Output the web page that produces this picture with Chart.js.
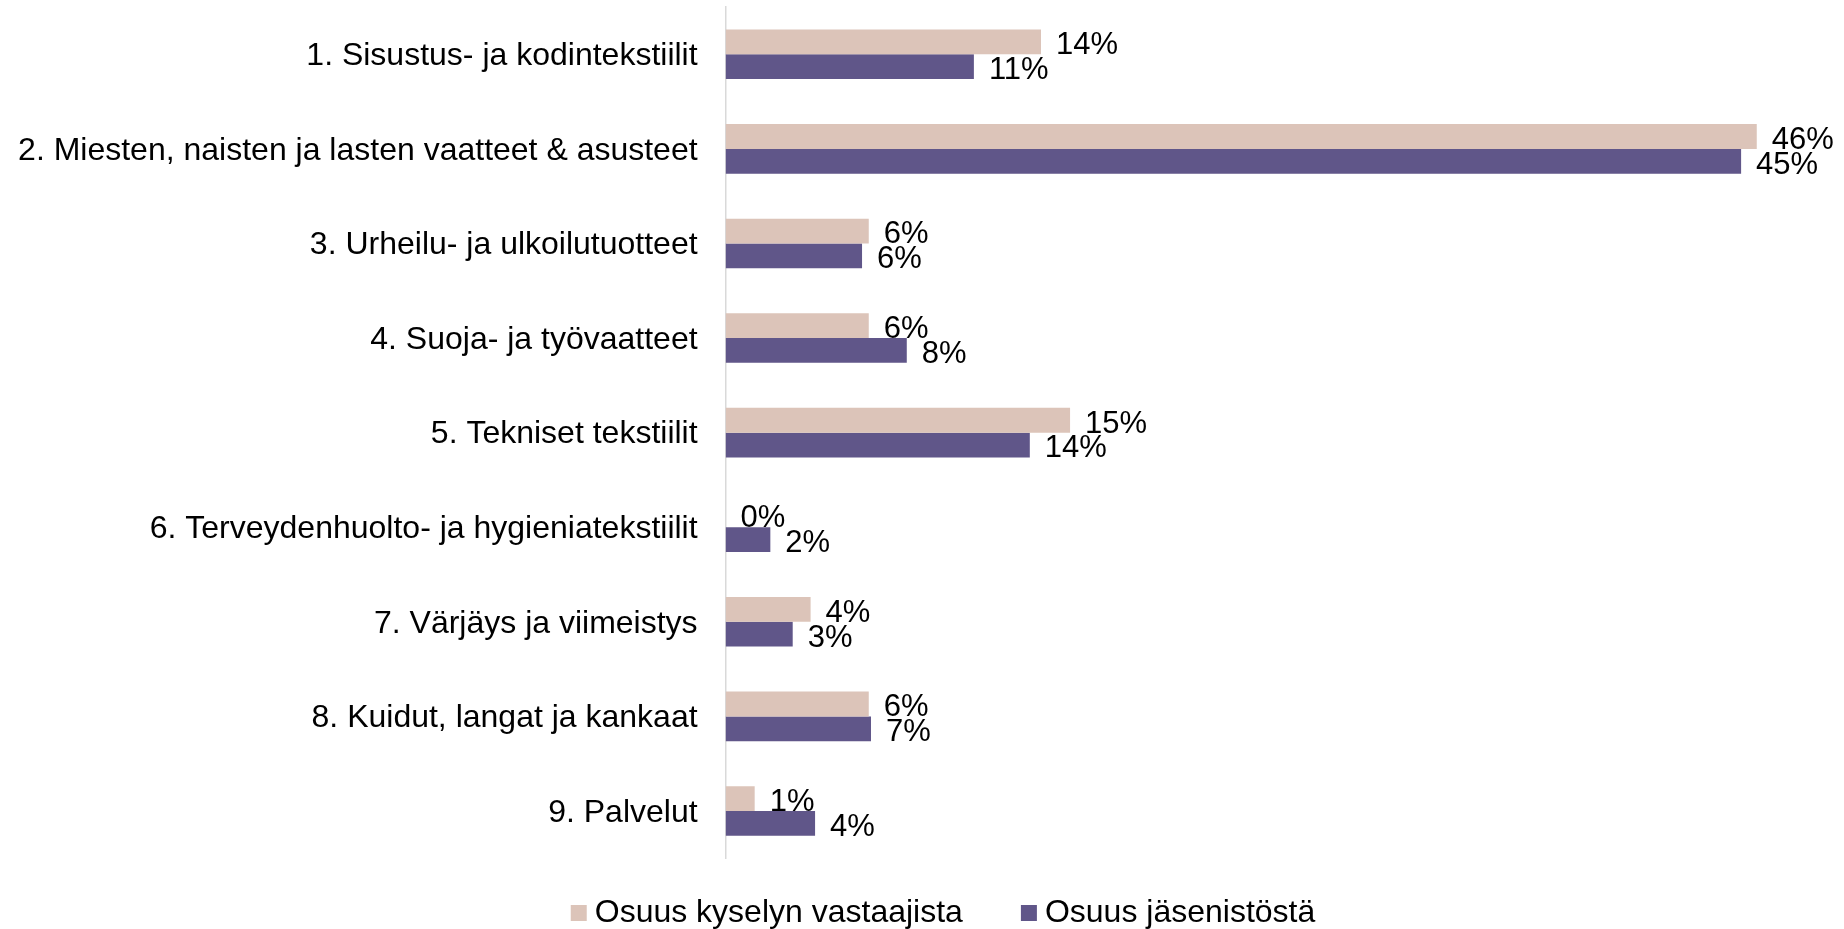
<!DOCTYPE html>
<html lang="fi">
<head>
<meta charset="utf-8">
<title>Toimialat</title>
<script src="https://cdn.jsdelivr.net/npm/chart.js@4/dist/chart.umd.min.js"></script>
<style>
  html, body { margin: 0; padding: 0; background: #fff; }
  .chart-wrap { position: relative; width: 1844px; height: 929px; }
</style>
</head>
<body>
<div class="chart-wrap">
  <canvas id="chart"></canvas>
</div>
<script>
// Categories and series (values in %)
const categories = [
  '1. Sisustus- ja kodintekstiilit',
  '2. Miesten, naisten ja lasten vaatteet & asusteet',
  '3. Urheilu- ja ulkoilutuotteet',
  '4. Suoja- ja työvaatteet',
  '5. Tekniset tekstiilit',
  '6. Terveydenhuolto- ja hygieniatekstiilit',
  '7. Värjäys ja viimeistys',
  '8. Kuidut, langat ja kankaat',
  '9. Palvelut'
];
const seriesNames = ['Osuus kyselyn vastaajista', 'Osuus jäsenistöstä'];
const respondents = [14.1, 46.1, 6.4, 6.4, 15.4, 0, 3.8, 6.4, 1.3];
const members     = [11.1, 45.4, 6.1, 8.1, 13.6, 2.0, 3.0, 6.5, 4.0];

const FONT = "'Liberation Sans', Arial, sans-serif";
const TAN = '#DCC4B9';
const PURPLE = '#605689';

// value labels to the right of each bar
const valueLabels = {
  id: 'valueLabels',
  afterDatasetsDraw(chart) {
    const ctx = chart.ctx;
    ctx.save();
    ctx.font = '31px ' + FONT;
    ctx.fillStyle = '#000';
    ctx.textAlign = 'left';
    ctx.textBaseline = 'alphabetic';
    chart.data.datasets.forEach((ds, di) => {
      const meta = chart.getDatasetMeta(di);
      meta.data.forEach((bar, i) => {
        ctx.fillText(Math.round(ds.data[i]) + '%', bar.x + 15, bar.y + 12.3);
      });
    });
    ctx.restore();
  }
};

// legend drawn under the plot, squares + text
const bottomLegend = {
  id: 'bottomLegend',
  afterDraw(chart, args, opts) {
    const ctx = chart.ctx;
    ctx.save();
    ctx.font = '32px ' + FONT;
    ctx.textBaseline = 'alphabetic';
    const box = 16, gapText = 8, gapItem = 58;
    const items = chart.data.datasets.map(ds => ({
      text: ds.label, color: ds.backgroundColor, w: ctx.measureText(ds.label).width
    }));
    const total = items.reduce((s, it) => s + box + gapText + it.w, 0) + gapItem * (items.length - 1);
    let x = opts.centerX - total / 2;
    items.forEach(it => {
      ctx.fillStyle = it.color;
      ctx.fillRect(x, opts.y - 16.5, box, box);
      ctx.fillStyle = '#000';
      ctx.fillText(it.text, x + box + gapText, opts.y);
      x += box + gapText + it.w + gapItem;
    });
    ctx.restore();
  }
};

const ctx = document.getElementById('chart').getContext('2d');
new Chart(ctx, {
  type: 'bar',
  data: {
    labels: categories,
    datasets: [
      { label: seriesNames[0], data: respondents, backgroundColor: TAN },
      { label: seriesNames[1], data: members, backgroundColor: PURPLE }
    ]
  },
  options: {
    indexAxis: 'y',
    responsive: true,
    maintainAspectRatio: false,
    animation: false,
    categoryPercentage: 0.525,
    barPercentage: 1,
    layout: { padding: { top: 7, right: 0, left: 18, bottom: 70.75 } },
    plugins: {
      legend: { display: false },
      tooltip: { enabled: false },
      bottomLegend: { centerX: 943, y: 921.5 }
    },
    scales: {
      x: { display: false, min: 0, max: 50 },
      y: {
        grid: { display: false, drawTicks: false },
        border: { display: true, color: '#D9D9D9', width: 1.5 },
        ticks: {
          padding: 28,
          labelOffset: 2,
          color: '#000',
          font: { size: 32, family: FONT }
        },
        afterFit: (scale) => {
          // fixed label column; no extra top/bottom padding from tick labels
          scale.width = 707.6;
          scale.paddingTop = 0;
          scale.paddingBottom = 0;
        }
      }
    }
  },
  plugins: [valueLabels, bottomLegend]
});
</script>
</body>
</html>
